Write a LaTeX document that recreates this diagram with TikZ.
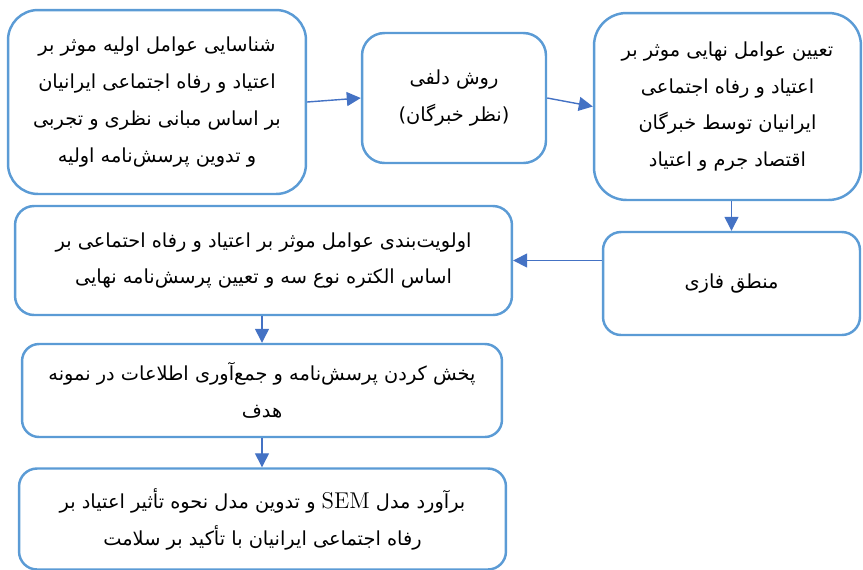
\documentclass[tikz,border=0pt]{standalone}
\usepackage{fontspec}
\usetikzlibrary{shapes,arrows.meta}
\TeXXeTstate=1
\newfontfamily\arabicfont[Script=Arabic]{DejaVu Sans}
\newcommand{\rl}[1]{\beginR #1\endR}
\definecolor{boxblue}{RGB}{91,155,213}
\definecolor{flowblue}{RGB}{68,114,196}
\tikzset{
	block/.style = {draw=boxblue, line width=1.4pt, rectangle, align=center,
		inner sep=2pt, font=\arabicfont\fontsize{11}{21}\selectfont},
	flow/.style  = {draw=flowblue, line width=0.8pt,
		-{Triangle[length=0.28cm,width=0.28cm]}}
}

\begin{document}
\begin{tikzpicture}[x=0.02cm, y=-0.02cm]
	\useasboundingbox (0,0) rectangle (863,569);
	\draw
	node at (157,102)[block, minimum width=5.96cm, minimum height=3.68cm, rounded corners=0.6cm] (b1)
	{\rl{شناسایی عوامل اولیه موثر بر}\\\rl{اعتیاد و رفاه اجتماعی ایرانیان}\\\rl{بر اساس مبانی نظری و تجربی}\\\rl{و تدوین پرسش‌نامه اولیه}}
	node at (454,98)[block, minimum width=3.68cm, minimum height=2.6cm, rounded corners=0.45cm] (b2)
	{\rl{روش دلفی}\\\rl{(نظر خبرگان)}}
	node at (727.5,106.5)[block, minimum width=5.34cm, minimum height=3.74cm, rounded corners=0.65cm] (b3)
	{\rl{تعیین عوامل نهایی موثر بر}\\\rl{اعتیاد و رفاه اجتماعی}\\\rl{ایرانیان توسط خبرگان}\\\rl{اقتصاد جرم و اعتیاد}}
	node at (731.5,283.5)[block, minimum width=5.14cm, minimum height=2.06cm, rounded corners=0.36cm] (b4)
	{\rl{منطق فازی}}
	node at (263.5,260.5)[block, minimum width=9.94cm, minimum height=2.18cm, rounded corners=0.38cm] (b5)
	{\rl{اولویت‌بندی عوامل موثر بر اعتیاد و رفاه احتماعی بر}\\\rl{اساس الکتره نوع سه و تعیین پرسش‌نامه نهایی}}
	node at (262,390.5)[block, minimum width=9.6cm, minimum height=1.86cm, rounded corners=0.34cm] (b6)
	{\rl{پخش کردن پرسش‌نامه و جمع‌آوری اطلاعات در نمونه}\\\rl{هدف}}
	node at (262.5,519)[block, minimum width=9.74cm, minimum height=2.02cm, rounded corners=0.36cm] (b7)
	{\rl{برآورد مدل {\rmfamily\fontsize{13}{21}\selectfont SEM} و تدوین مدل نحوه تأثیر اعتیاد بر}\\\rl{رفاه اجتماعی ایرانیان با تأکید بر سلامت}}
	;

	\draw[flow] (b1.east) -- (b2.west);
	\draw[flow] (b2.east) -- (b3.west);
	\draw[flow] (b4.north |- b3.south) -- (b4.north);
	\draw[flow] (b4.west |- b5.east) -- (b5.east);
	\draw[flow] (b6.north |- b5.south) -- (b6.north);
	\draw[flow] (b6.south) -- (b6.south |- b7.north);
\end{tikzpicture}
\end{document}
